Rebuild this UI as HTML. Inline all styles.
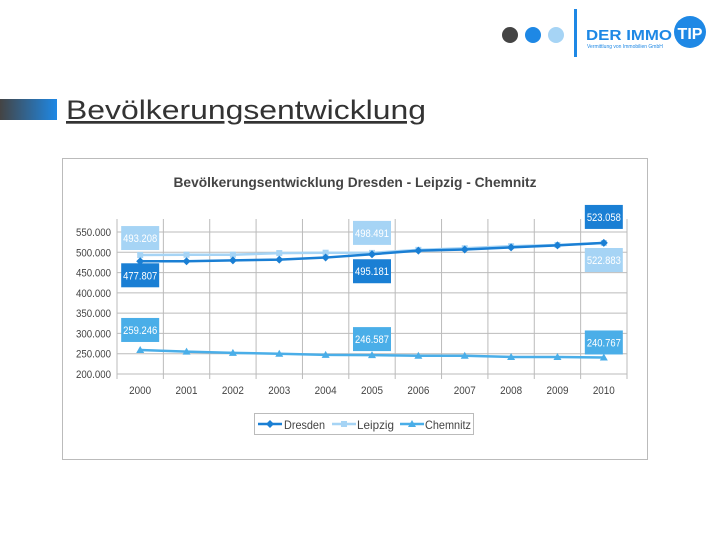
<!DOCTYPE html>
<html><head><meta charset="utf-8"><style>
body{margin:0;width:720px;height:540px;background:#fff;position:relative;overflow:hidden;font-family:"Liberation Sans",sans-serif}
</style></head><body>
<svg width="720" height="540" style="position:absolute;left:0;top:0">
<g>
<circle cx="510" cy="35" r="8" fill="#444"/><circle cx="533" cy="35" r="8" fill="#1e88e5"/><circle cx="556" cy="35" r="8" fill="#a6d4f5"/>
<rect x="574" y="9" width="3" height="48" fill="#1e88e5"/>
<text x="586" y="40" font-size="15" font-weight="bold" fill="#1e88e5" textLength="86" lengthAdjust="spacingAndGlyphs">DER IMMO</text>
<circle cx="690" cy="32" r="16" fill="#1e88e5"/>
<text x="690" y="39" font-size="16" font-weight="bold" fill="#fff" text-anchor="middle">TIP</text>
<text x="587" y="48" font-size="5" fill="#1e88e5">Vermittlung von Immobilien GmbH</text>
</g>
<defs><linearGradient id="g" x1="0" x2="1"><stop offset="0" stop-color="#444"/><stop offset="1" stop-color="#1e88e5"/></linearGradient></defs>
<rect x="0" y="99" width="57" height="21" fill="url(#g)"/>
<text x="66" y="119" font-size="27" fill="#333" text-decoration="underline" textLength="360" lengthAdjust="spacingAndGlyphs">Bevölkerungsentwicklung</text>
<rect x="62.5" y="158.5" width="585" height="301" fill="#fff" stroke="#bbb"/>
<text x="355" y="187" font-size="14" font-weight="bold" fill="#444" text-anchor="middle" textLength="363" lengthAdjust="spacingAndGlyphs">Bevölkerungsentwicklung Dresden - Leipzig - Chemnitz</text>
<g id="chart"></g>
<g>
<rect x="254.5" y="413.5" width="219" height="21" fill="#fff" stroke="#bbb"/>
<line x1="258" y1="424" x2="282" y2="424" stroke="#1a7fd4" stroke-width="2.5"/><path d="M270 420l4 4-4 4-4-4z" fill="#1a7fd4"/>
<text x="284" y="429" font-size="12" fill="#444" textLength="41" lengthAdjust="spacingAndGlyphs">Dresden</text>
<line x1="332" y1="424" x2="356" y2="424" stroke="#a6d4f5" stroke-width="2.5"/><rect x="341" y="421" width="6" height="6" fill="#a6d4f5"/>
<text x="357" y="429" font-size="12" fill="#444" textLength="37" lengthAdjust="spacingAndGlyphs">Leipzig</text>
<line x1="400" y1="424" x2="424" y2="424" stroke="#4aaee8" stroke-width="2.5"/><path d="M412 420l4 7h-8z" fill="#4aaee8"/>
<text x="425" y="429" font-size="12" fill="#444" textLength="46" lengthAdjust="spacingAndGlyphs">Chemnitz</text>
</g>
</svg>
<script>
const years=["2000","2001","2002","2003","2004","2005","2006","2007","2008","2009","2010"];
const dresden=[477.807,478,480,482,487,495.181,504,507,512,517,523.058];
const leipzig=[493.208,494,494,498,499,498.491,506,510,515,518,522.883];
const chemnitz=[259.246,255,252,250,247,246.587,245,245,242,242,240.767];
const yTicks=[200,250,300,350,400,450,500,550];
const L=117,R=627,T=232,B=374,ymin=200,ymax=550;
const bw=(R-L)/years.length;
const x=i=>L+bw*(i+0.5);
const y=v=>B-(v-ymin)/(ymax-ymin)*(B-T);
const fmt=v=>v.toFixed(3);
const NS="http://www.w3.org/2000/svg";
const g=document.getElementById('chart');
function el(t,a,p){const e=document.createElementNS(NS,t);for(const k in a)e.setAttribute(k,a[k]);(p||g).appendChild(e);return e;}
yTicks.forEach(v=>{
 const l=el('line',{x1:L,x2:R,y1:y(v),y2:y(v),stroke:'#bbb'});
 
 
 const t=el('text',{x:L-6,y:y(v)+4,'font-size':11,fill:'#444','text-anchor':'end',textLength:35,lengthAdjust:'spacingAndGlyphs'});
 t.textContent=v+'.000';
 
 
});
for(let i=0;i<=years.length;i++){
 const l=el('line',{x1:L+bw*i,x2:L+bw*i,y1:T-13,y2:B+5,stroke:'#bbb'});
 
 
}
years.forEach((yr,i)=>{
 const t=el('text',{x:x(i),y:B+20,'font-size':11,fill:'#444','text-anchor':'middle',textLength:22,lengthAdjust:'spacingAndGlyphs'});
 t.textContent=yr;
 
 
});
function series(data,color,name,marker){
 const p=el('polyline',{points:data.map((v,i)=>x(i)+','+y(v)).join(' '),fill:'none',stroke:color,'stroke-width':2.5});
 
 
 data.forEach((v,i)=>{
  const cx=x(i),cy=y(v);let m;
  if(marker==='d')m=el('path',{d:`M${cx} ${cy-4}l4 4-4 4-4-4z`,fill:color});
  else if(marker==='s')m=el('rect',{x:cx-3,y:cy-3,width:6,height:6,fill:color});
  else m=el('path',{d:`M${cx} ${cy-4}l4 7h-8z`,fill:color});
  
  
 });
}
series(leipzig,'#a6d4f5','leipzig','s');
series(dresden,'#1a7fd4','dresden','d');
series(chemnitz,'#4aaee8','chemnitz','t');
function label(data,i,color,name,dy){
 const cx=x(i),cy=y(data[i])+dy;
 const r=el('rect',{x:cx-19,y:cy-12,width:38,height:24,fill:color});
 
 
 const t=el('text',{x:cx,y:cy+4,'font-size':11,fill:'#fff','text-anchor':'middle',textLength:34,lengthAdjust:'spacingAndGlyphs'});
 t.textContent=fmt(data[i]);
 
 
}
label(leipzig,0,'#a6d4f5','leipzig',-17);
label(dresden,0,'#1a7fd4','dresden',14);
label(leipzig,5,'#a6d4f5','leipzig',-20);
label(dresden,5,'#1a7fd4','dresden',17);
label(dresden,10,'#1a7fd4','dresden',-26);
label(leipzig,10,'#a6d4f5','leipzig',17);
label(chemnitz,0,'#4aaee8','chemnitz',-20);
label(chemnitz,5,'#4aaee8','chemnitz',-16);
label(chemnitz,10,'#4aaee8','chemnitz',-15);
</script>
</body></html>
